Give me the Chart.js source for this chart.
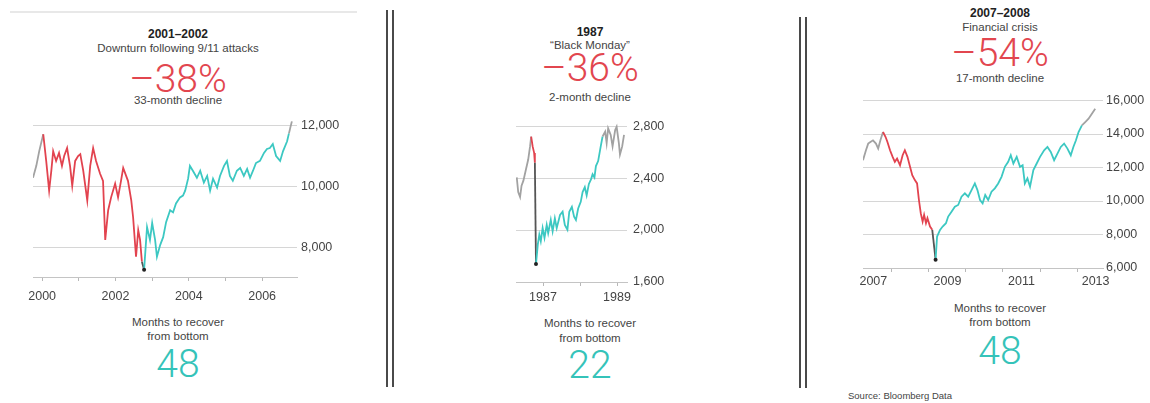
<!DOCTYPE html>
<html>
<head>
<meta charset="utf-8">
<script src="https://cdn.jsdelivr.net/npm/chart.js@4.4.1/dist/chart.umd.min.js"></script>
<style>
  html, body { margin: 0; padding: 0; background: #fff; }
  body { width: 1150px; height: 403px; position: relative; overflow: hidden;
         font-family: "Liberation Sans", Arial, Helvetica, sans-serif; color: #333; }
  .t { position: absolute; transform: translateX(-50%); white-space: nowrap; text-align: center; }
  .hd { font-weight: bold; font-size: 12px; line-height: 12px; color: #222; }
  .sub { font-size: 11.5px; line-height: 12px; color: #444; }
  .big { font-family: Roboto, "Liberation Sans", Arial, sans-serif; font-weight: 300; font-size: 39px; line-height: 39px; }
  .red { color: #e2464f; }
  .teal { color: #35c3b9; }
  .rule { position: absolute; background: #4a4a4a; width: 2px; }
  canvas { position: absolute; }
</style>
</head>
<body>
<div style="position:absolute;left:10px;top:11px;width:347px;height:2px;background:#e8e8e8"></div>

<div class="rule" style="left:386px;top:10px;height:377px"></div>
<div class="rule" style="left:392px;top:10px;height:377px"></div>
<div class="rule" style="left:799px;top:17px;height:371px"></div>
<div class="rule" style="left:805px;top:17px;height:371px"></div>

<!-- 2001-2002 -->
<div class="t hd" style="left:178px;top:28px">2001–2002</div>
<div class="t sub" style="left:178px;top:42px">Downturn following 9/11 attacks</div>
<div class="t big red" style="left:178px;top:60px">–38%</div>
<div class="t sub" style="left:178px;top:94px">33-month decline</div>
<div class="t sub" style="left:178px;top:316px">Months to recover</div>
<div class="t sub" style="left:178px;top:330px">from bottom</div>
<div class="t big teal" style="left:178px;top:345px">48</div>

<!-- 1987 -->
<div class="t hd" style="left:590px;top:26px">1987</div>
<div class="t sub" style="left:590px;top:39px">“Black Monday”</div>
<div class="t big red" style="left:590px;top:49px">–36%</div>
<div class="t sub" style="left:590px;top:91px">2-month decline</div>
<div class="t sub" style="left:590px;top:317px">Months to recover</div>
<div class="t sub" style="left:590px;top:332px">from bottom</div>
<div class="t big teal" style="left:590px;top:346px">22</div>

<!-- 2007-2008 -->
<div class="t hd" style="left:1000px;top:7px">2007–2008</div>
<div class="t sub" style="left:1000px;top:21px">Financial crisis</div>
<div class="t big red" style="left:1000px;top:34px">–54%</div>
<div class="t sub" style="left:1000px;top:72px">17-month decline</div>
<div class="t sub" style="left:1000px;top:302px">Months to recover</div>
<div class="t sub" style="left:1000px;top:316px">from bottom</div>
<div class="t big teal" style="left:1000px;top:332px">48</div>
<div style="position:absolute;left:848px;top:391px;font-size:9.5px;line-height:10px;color:#444">Source: Bloomberg Data</div>

<canvas id="c1" width="328" height="200" style="left:17px;top:105px"></canvas>
<canvas id="c2" width="175" height="201" style="left:500px;top:109px"></canvas>
<canvas id="c3" width="304" height="209" style="left:847px;top:87px"></canvas>

<script>
// Dow Jones Industrial Average, 2000-2006
const p1Years = [1999.75, 1999.84, 1999.92, 2000.03, 2000.11, 2000.19, 2000.25, 2000.30, 2000.38, 2000.46,
  2000.54, 2000.60, 2000.68, 2000.76, 2000.82, 2000.90, 2000.98, 2001.04, 2001.12, 2001.23,
  2001.31, 2001.39, 2001.47, 2001.58, 2001.66, 2001.72, 2001.80, 2001.88, 2001.99, 2002.07,
  2002.15, 2002.21, 2002.29, 2002.34, 2002.43, 2002.48, 2002.56, 2002.62, 2002.67, 2002.72,
  2002.78, 2002.86, 2002.94, 2003.00, 2003.08, 2003.13, 2003.22, 2003.30, 2003.38, 2003.49,
  2003.57, 2003.65, 2003.76, 2003.84, 2003.90, 2003.98, 2004.03, 2004.11, 2004.22, 2004.31,
  2004.41, 2004.50, 2004.58, 2004.66, 2004.77, 2004.85, 2004.96, 2005.04, 2005.12, 2005.20,
  2005.31, 2005.40, 2005.50, 2005.59, 2005.67, 2005.75, 2005.83, 2005.94, 2006.05, 2006.13,
  2006.21, 2006.29, 2006.38, 2006.49, 2006.57, 2006.68, 2006.73, 2006.81];
const p1Values = [10290, 10680, 11160, 11710, 10840, 9870, 10520, 11160, 10840, 11100,
  10680, 11000, 11260, 10680, 10030, 10840, 11000, 11060, 10520, 9550,
  10680, 11260, 10840, 10420, 10190, 8260, 9230, 9650, 10100, 9650,
  10190, 10610, 10350, 10190, 9550, 9000, 7710, 8580, 8260, 7550,
  7290, 8680, 8260, 8810, 8260, 7710, 8100, 8350, 8840, 9230,
  9160, 9450, 9650, 9710, 9870, 10260, 10680, 10520, 10290, 10520,
  10130, 10350, 9870, 10260, 9970, 10350, 10680, 10840, 10350, 10190,
  10520, 10610, 10350, 10580, 10290, 10520, 10770, 10840, 11100, 11230,
  11260, 11390, 11000, 10840, 11160, 11480, 11740, 12130];
const p1YTicks = [8000, 10000, 12000];
const p1TickYears = [2000, 2001, 2002, 2003, 2004, 2005, 2006];
const p1LabelYears = [2000, 2002, 2004, 2006];
const p1LabelText = ['2000', '2002', '2004', '2006'];

// Dow Jones Industrial Average, 1987-1990
const p2Years = [1987.29, 1987.33, 1987.38, 1987.42, 1987.47, 1987.54, 1987.60, 1987.65, 1987.68, 1987.72,
  1987.76, 1987.78, 1987.81, 1987.86, 1987.90, 1987.94, 1987.99, 1988.04, 1988.10, 1988.14,
  1988.21, 1988.26, 1988.32, 1988.37, 1988.46, 1988.53, 1988.59, 1988.66, 1988.71, 1988.78,
  1988.84, 1988.89, 1988.95, 1989.02, 1989.07, 1989.13, 1989.18, 1989.24, 1989.30, 1989.34,
  1989.39, 1989.43, 1989.49, 1989.56, 1989.61, 1989.68, 1989.72, 1989.76, 1989.83, 1989.88,
  1989.95, 1989.99, 1990.05, 1990.08, 1990.14, 1990.19];
const p2Values = [2405, 2292, 2254, 2342, 2380, 2468, 2543, 2644, 2720, 2644,
  2594, 2518, 1738, 1889, 1965, 1914, 2015, 1939, 2040, 1977,
  2078, 1990, 2090, 2015, 2116, 2141, 2040, 2003, 2141, 2179,
  2103, 2078, 2166, 2217, 2292, 2330, 2267, 2355, 2392, 2430,
  2405, 2493, 2531, 2644, 2720, 2758, 2669, 2783, 2732, 2644,
  2770, 2795, 2669, 2581, 2644, 2732];
const p2YTicks = [1600, 2000, 2400, 2800];
const p2TickYears = [1988, 1989, 1990];
const p2LabelYears = [1988, 1990];
const p2LabelText = ['1987', '1989'];

// Dow Jones Industrial Average, 2007-2013
const p3Years = [2007.22, 2007.30, 2007.36, 2007.42, 2007.49, 2007.57, 2007.63, 2007.69, 2007.76, 2007.83,
  2007.88, 2007.95, 2008.02, 2008.08, 2008.14, 2008.22, 2008.29, 2008.35, 2008.42, 2008.49,
  2008.55, 2008.62, 2008.68, 2008.73, 2008.78, 2008.83, 2008.87, 2008.92, 2008.96, 2009.03,
  2009.09, 2009.18, 2009.22, 2009.30, 2009.37, 2009.46, 2009.52, 2009.61, 2009.70, 2009.79,
  2009.88, 2009.97, 2010.06, 2010.15, 2010.24, 2010.31, 2010.38, 2010.45, 2010.52, 2010.60,
  2010.69, 2010.78, 2010.87, 2010.96, 2011.05, 2011.14, 2011.21, 2011.28, 2011.37, 2011.46,
  2011.53, 2011.59, 2011.66, 2011.73, 2011.82, 2011.91, 2012.00, 2012.11, 2012.20, 2012.29,
  2012.38, 2012.47, 2012.56, 2012.65, 2012.74, 2012.83, 2012.90, 2012.97, 2013.04, 2013.13,
  2013.22, 2013.31, 2013.40, 2013.49];
const p3Values = [12436, 13030, 13428, 13525, 13624, 13428, 13130, 13624, 14119, 13822,
  13525, 13030, 12634, 12337, 12535, 12139, 12733, 13030, 12634, 12040,
  11545, 11248, 11050, 10060, 9270, 8771, 9169, 8676, 8973, 8474,
  8278, 6496, 7880, 8278, 8474, 8676, 9070, 9365, 9660, 9763,
  10257, 10456, 10257, 10654, 11050, 10654, 10060, 9864, 10357, 10060,
  10555, 10755, 11050, 11444, 12040, 12337, 12733, 12239, 12634, 12040,
  12139, 11050, 11347, 10852, 11842, 12239, 12634, 13030, 13228, 12931,
  12436, 12832, 13228, 13428, 13130, 12733, 13228, 13624, 14119, 14515,
  14713, 14911, 15208, 15505];
const p3YTicks = [6000, 8000, 10000, 12000, 14000, 16000];
const p3TickYears = [2008, 2009, 2010, 2011, 2012, 2013];
const p3LabelYears = [2007.5, 2009.5, 2011.5, 2013.5];
const p3LabelText = ['2007', '2009', '2011', '2013'];

const GRAY = '#a2a2a2';
const RED = '#e2434f';
const TEAL = '#3cc8c2';
const DARK = '#555555';
const TICK_FONT = { family: '"Liberation Sans", Arial, sans-serif', size: 12.5 };

function drawPanel(canvas, p) {
    const points = p.years.map((x, i) => ({ x: x, y: p.values[i] }));

    new Chart(canvas, {
        type: 'line',
        data: {
            datasets: [{
                data: points,
                borderWidth: 1.8,
                tension: 0,
                pointRadius: ctx => (ctx.raw && ctx.raw.x === p.bottom ? 2 : 0),
                pointBackgroundColor: '#222',
                pointBorderWidth: 0,
                segment: {
                    borderColor: c => {
                        const x0 = c.p0.parsed.x, x1 = c.p1.parsed.x;
                        if (x1 === p.bottom) return DARK;
                        if (x0 < p.peak) return GRAY;
                        if (x1 < p.bottom) return RED;
                        if (x0 >= p.recover) return GRAY;
                        return TEAL;
                    },
                },
            }],
        },
        options: {
            responsive: false,
            animation: false,
            events: [],
            layout: { padding: { top: 10, left: 16, right: 0, bottom: 0 } },
            plugins: { legend: { display: false }, tooltip: { enabled: false } },
            scales: {
                x: {
                    type: 'linear',
                    min: p.xMin,
                    max: p.xMax,
                    grid: { display: true, drawOnChartArea: false, drawTicks: true, tickLength: 4, color: '#b8b8b8' },
                    border: { display: true, color: '#c4c4c4' },
                    ticks: { display: false },
                    afterBuildTicks: s => { s.ticks = p.tickYears.map(v => ({ value: v })); },
                    afterFit: s => { s.height = 4; },
                },
                xl: {
                    type: 'linear',
                    position: 'bottom',
                    weight: 1,
                    min: p.xMin,
                    max: p.xMax,
                    grid: { display: false, drawTicks: false },
                    border: { display: false },
                    ticks: {
                        autoSkip: false,
                        maxRotation: 0,
                        padding: p.xPad,
                        color: '#444',
                        font: TICK_FONT,
                        callback: (v, i) => p.labelText[i],
                    },
                    afterBuildTicks: s => { s.ticks = p.labelYears.map(v => ({ value: v })); },
                    afterFit: s => { s.height = 24; },
                },
                y: {
                    position: 'right',
                    min: p.yMin,
                    max: p.yMax,
                    grid: { color: '#d6d6d6', drawTicks: false },
                    border: { display: false },
                    ticks: {
                        padding: p.yPad,
                        color: '#444',
                        font: TICK_FONT,
                        callback: v => v.toLocaleString('en-US'),
                    },
                    afterBuildTicks: s => { s.ticks = p.yTicks.map(v => ({ value: v })); },
                    afterFit: s => { s.width = 48; },
                },
            },
        },
    });
}

drawPanel(document.getElementById('c1'), {
    years: p1Years, values: p1Values, yTicks: p1YTicks,
    tickYears: p1TickYears, labelYears: p1LabelYears, labelText: p1LabelText,
    xMin: 1999.75, xMax: 2006.95, yMin: 7050, yMax: 12290, yPad: 4, xPad: 8,
    peak: 2000.03, bottom: 2002.78, recover: 2006.73,
});

drawPanel(document.getElementById('c2'), {
    years: p2Years, values: p2Values, yTicks: p2YTicks,
    tickYears: p2TickYears, labelYears: p2LabelYears, labelText: p2LabelText,
    xMin: 1987.27, xMax: 1990.27, yMin: 1600, yMax: 2828, yPad: 6, xPad: 4,
    peak: 1987.68, bottom: 1987.81, recover: 1989.61,
});

drawPanel(document.getElementById('c3'), {
    years: p3Years, values: p3Values, yTicks: p3YTicks,
    tickYears: p3TickYears, labelYears: p3LabelYears, labelText: p3LabelText,
    xMin: 2007.22, xMax: 2013.70, yMin: 6000, yMax: 16180, yPad: 3, xPad: 2,
    peak: 2007.76, bottom: 2009.18, recover: 2013.13,
});
</script>
</body>
</html>
